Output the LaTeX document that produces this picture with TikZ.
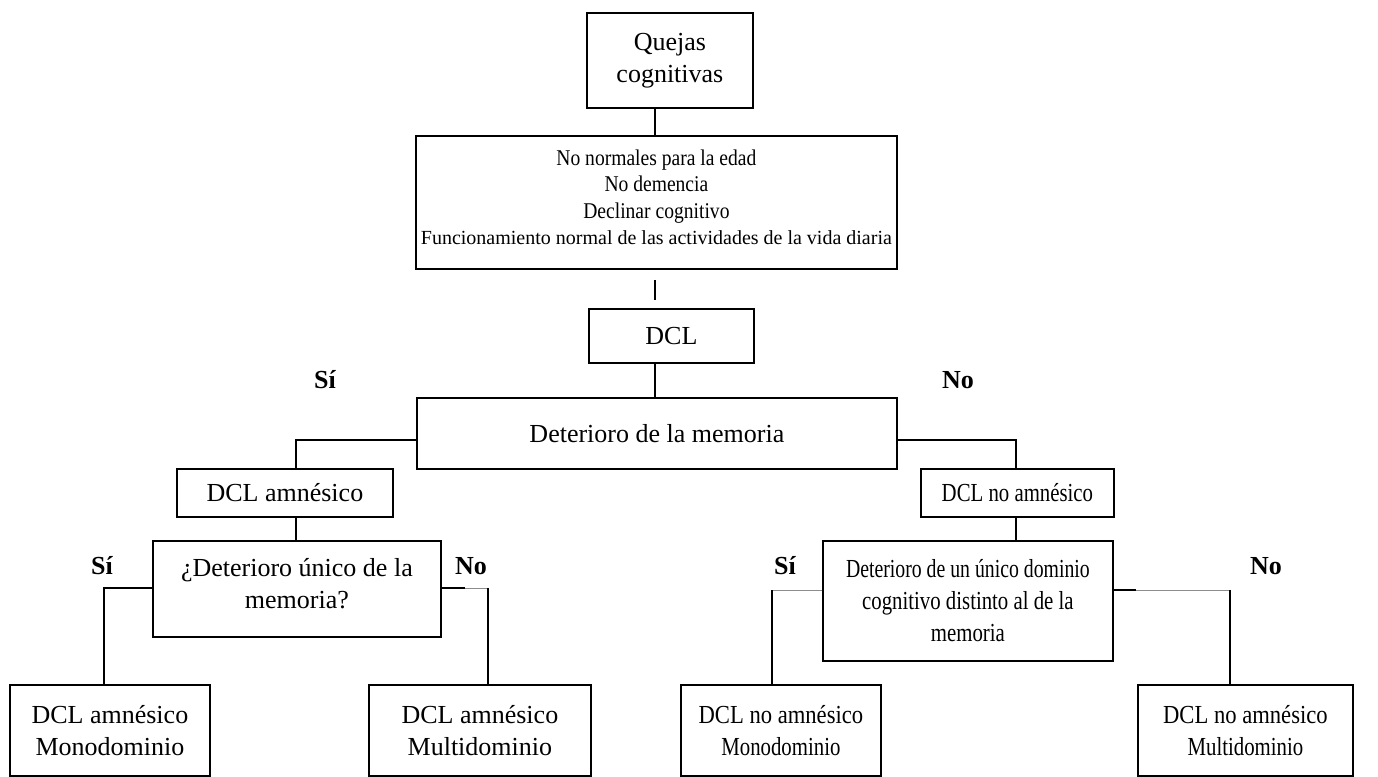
\documentclass[tikz,border=0pt]{standalone}
\usepackage{graphicx}
\usepackage{fontspec}
\setmainfont{Liberation Serif}
\usetikzlibrary{calc}
\newcommand{\nx}[2][0.8]{\scalebox{#1}[1]{#2}}
\begin{document}
\begin{tikzpicture}[x=1pt,y=-1pt,
  box/.style={draw,line width=1.8pt,align=center,inner sep=0pt,anchor=north west,font=\fontsize{26}{32}\selectfont},
  txt/.style={align=center,inner sep=0pt,font=\fontsize{26}{32}\selectfont},
  conn/.style={line width=1.8pt},
  faint/.style={line width=0.7pt,draw=black!45},
  lbl/.style={font=\fontsize{26}{32}\selectfont\bfseries,inner sep=0pt}]
\useasboundingbox[fill=white] (0,0) rectangle (1378,776);
% boxes
\node[box,minimum width=166pt,minimum height=95pt] (quejas) at (586,12) {Quejas\\cognitivas};
\node[box,minimum width=481pt,minimum height=133pt] (crit) at (415,135) {};
\node[txt,font=\fontsize{22.5}{26.5}\selectfont] (critt) at ($(crit.center)+(0,-5)$)
  {\nx[0.87]{No normales para la edad}\\\nx[0.87]{No demencia}\\\nx[0.87]{Declinar cognitivo}\\{\fontsize{20}{26.5}\selectfont Funcionamiento normal de las actividades de la vida diaria}};
\node[box,minimum width=165pt,minimum height=54pt] (dcl) at (588,308) {DCL};
\node[box,minimum width=480pt,minimum height=71pt] (mem) at (416,397) {Deterioro de la memoria};
\node[box,minimum width=216pt,minimum height=48pt] (amn) at (176,468) {DCL amnésico};
\node[box,minimum width=193pt,minimum height=48pt] (namn) at (920,468) {\nx{DCL no amnésico}};
\node[box,minimum width=288pt,minimum height=96pt] (unico) at (152,540) {};
\node[txt] (unicot) at ($(unico.center)+(0,-5)$) {¿Deterioro único de la\\memoria?};
\node[box,minimum width=290pt,minimum height=120pt] (dom) at (822,540) {\nx[0.76]{Deterioro de un único dominio}\\\nx{cognitivo distinto al de la}\\\nx{memoria}};
\node[box,minimum width=200pt,minimum height=91pt] (amono) at (9,684) {DCL amnésico\\Monodominio};
\node[box,minimum width=222pt,minimum height=91pt] (amulti) at (368,684) {DCL amnésico\\Multidominio};
\node[box,minimum width=200pt,minimum height=91pt] (nmono) at (680,684) {\nx[0.87]{DCL no amnésico}\\\nx{Monodominio}};
\node[box,minimum width=215pt,minimum height=91pt] (nmulti) at (1137,684) {\nx[0.87]{DCL no amnésico}\\\nx{Multidominio}};
% labels
\node[lbl] (si1) at (325,380) {Sí};
\node[lbl] (no1) at (958,380) {No};
\node[lbl] (si2) at (102,566) {Sí};
\node[lbl] (no2) at (471,566) {No};
\node[lbl] (si3) at (785,566) {Sí};
\node[lbl] (no3) at (1266,566) {No};
% connector coordinates
\coordinate (sp) at (655,0);
\coordinate (la) at (296,440);
\coordinate (ra) at (1016,440);
\coordinate (lb) at (104,588);
\coordinate (rb) at (488,588);
\coordinate (lc) at (772,590);
\coordinate (rc) at (1230,590);
% connectors
\draw[conn] (quejas.south -| sp) -- (crit.north -| sp);
\draw[conn,shorten <=10pt,shorten >=8pt] (crit.south -| sp) -- (dcl.north -| sp);
\draw[conn] (dcl.south -| sp) -- (mem.north -| sp);
\draw[conn] (mem.west |- la) -- (la) -- (amn.north -| la);
\draw[conn] (mem.east |- ra) -- (ra) -- (namn.north -| ra);
\draw[conn] (amn.south -| la) -- (unico.north -| la);
\draw[conn] (namn.south -| ra) -- (dom.north -| ra);
\draw[conn] (unico.west |- lb) -- (lb) -- (amono.north -| lb);
\draw[conn] (unico.east |- rb) -- ++(23,0);
\draw[faint] ($(unico.east |- rb)+(23,0)$) -- (rb);
\draw[conn] (rb) -- (amulti.north -| rb);
\draw[faint] (dom.west |- lc) -- (lc);
\draw[conn] (lc) -- (nmono.north -| lc);
\draw[conn] (dom.east |- rc) -- ++(22,0);
\draw[faint] ($(dom.east |- rc)+(22,0)$) -- (rc);
\draw[conn] (rc) -- (nmulti.north -| rc);
\end{tikzpicture}
\end{document}
